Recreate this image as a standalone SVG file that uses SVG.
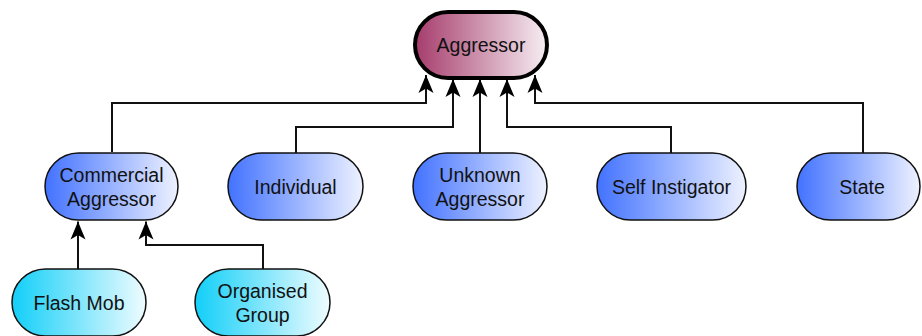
<svg xmlns="http://www.w3.org/2000/svg" width="922" height="336" viewBox="0 0 922 336">
<defs>
<linearGradient id="gTop" x1="0" y1="0" x2="1" y2="0">
<stop offset="0" stop-color="#a63c6c"/>
<stop offset="1" stop-color="#f6eef3"/>
</linearGradient>
<linearGradient id="gBlue" x1="0" y1="0" x2="1" y2="0">
<stop offset="0" stop-color="#4272ff"/>
<stop offset="1" stop-color="#eef2ff"/>
</linearGradient>
<linearGradient id="gCyan" x1="0" y1="0" x2="1" y2="0">
<stop offset="0" stop-color="#12cff8"/>
<stop offset="1" stop-color="#effcff"/>
</linearGradient>
<marker id="arr" markerUnits="userSpaceOnUse" markerWidth="20" markerHeight="18" viewBox="-19 -9 20 18" refX="0" refY="0" orient="auto">
<path d="M0,0 L-18,-7.5 L-13.5,0 L-18,7.5 Z" fill="#000"/>
</marker>
<style>
.n2 { fill: url(#gBlue); stroke: #111; stroke-width: 1.5; }
.n3 { fill: url(#gCyan); stroke: #111; stroke-width: 1.5; }
.top { fill: url(#gTop); stroke: #000; stroke-width: 4; }
text { font-family: "Liberation Sans", Arial, sans-serif; font-size: 19.5px; fill: #111; text-anchor: middle; }
.c { fill: none; stroke: #111; stroke-width: 2; marker-end: url(#arr); }
</style>
</defs>
<g id="connectors">
<path class="c" d="M112,152 V103 H426 V75"/>
<path class="c" d="M296,153 V127 H453 V79"/>
<path class="c" d="M480,153 V79"/>
<path class="c" d="M671,153 V127 H507 V79"/>
<path class="c" d="M863,153 V103 H535 V75"/>
<path class="c" d="M78,269 V221.5"/>
<path class="c" d="M263,269 V245 H146 V221.5"/>
</g>
<g id="aggressor">
<rect class="top" x="415" y="12" width="132" height="66" rx="33" ry="33"/>
<text x="481" y="52">Aggressor</text>
</g>
<g id="commercial-aggressor">
<rect class="n2" x="45" y="153" width="133" height="67" rx="33.5" ry="33.5"/>
<text x="111.5" y="182">Commercial</text>
<text x="111.5" y="206">Aggressor</text>
</g>
<g id="individual">
<rect class="n2" x="228" y="153" width="135" height="67" rx="33.5" ry="33.5"/>
<text x="295.5" y="194">Individual</text>
</g>
<g id="unknown-aggressor">
<rect class="n2" x="413" y="153" width="134" height="67" rx="33.5" ry="33.5"/>
<text x="480" y="182">Unknown</text>
<text x="480" y="206">Aggressor</text>
</g>
<g id="self-instigator">
<rect class="n2" x="597" y="153" width="149" height="67" rx="33.5" ry="33.5"/>
<text x="671.5" y="194">Self Instigator</text>
</g>
<g id="state">
<rect class="n2" x="797" y="153" width="123" height="67" rx="33.5" ry="33.5"/>
<text x="862" y="194">State</text>
</g>
<g id="flash-mob">
<rect class="n3" x="12" y="269" width="134" height="67" rx="33.5" ry="33.5"/>
<text x="79" y="310">Flash Mob</text>
</g>
<g id="organised-group">
<rect class="n3" x="195" y="269" width="135" height="67" rx="33.5" ry="33.5"/>
<text x="262.5" y="298">Organised</text>
<text x="262.5" y="322">Group</text>
</g>
</svg>
